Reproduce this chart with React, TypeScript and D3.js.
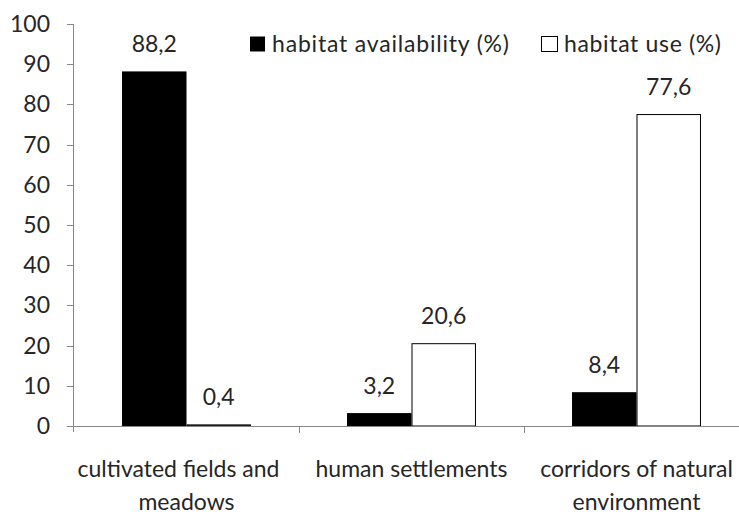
import React from "react";
import * as d3 from "d3";

const categories: string[][] = [
  ["cultivated fields and", "meadows"],
  ["human settlements"],
  ["corridors of natural", "environment"],
];
const categoryKeys = ["cultivated", "settlements", "corridors"];
const seriesNames = ["habitat availability (%)", "habitat use (%)"];
const availability = [88.2, 3.2, 8.4];
const use = [0.4, 20.6, 77.6];
const yTicks = [0, 10, 20, 30, 40, 50, 60, 70, 80, 90, 100];

const W = 739;
const H = 514;
const FONT = "Lato, 'Open Sans', sans-serif";
const FS = 23;
const TEXT = "#262626";
const AXIS = "#868686";

export default function App() {
  const left = 74;
  const right = 749;
  const top = 24;
  const bottom = 426;
  const x0 = d3.scaleBand<string>().domain(categoryKeys).range([left, right]).padding(0);
  const bw = x0.bandwidth();
  const groupW = bw * 0.573;
  const x1 = d3
    .scaleBand<string>()
    .domain(["a", "u"])
    .range([(bw - groupW) / 2, (bw + groupW) / 2])
    .padding(0);
  const y = d3.scaleLinear().domain([0, 100]).range([bottom, top]);
  const fmt = (v: number) => d3.format(".1f")(v).replace(".", ",");
  const series = [
    { key: "a", values: availability, fill: "#000", stroke: "#000" },
    { key: "u", values: use, fill: "#fff", stroke: "#000" },
  ];
  // first line of the first label is offset (trailing space in the original)
  const lineShift = (i: number, j: number) => (i === 0 && j === 0 ? -8 : 0);
  return (
    <svg
      width={W}
      height={H}
      style={{ position: "absolute", left: 0, top: 0, background: "#fff" }}
      fontFamily={FONT}
    >
      <rect width={W} height={H} fill="#fff" />
      {/* y axis */}
      <line x1={left - 0.5} x2={left - 0.5} y1={top} y2={bottom + 6} stroke={AXIS} />
      {yTicks.map((t) => (
        <g key={t}>
          <line x1={left - 7} x2={left} y1={Math.round(y(t)) + 0.5} y2={Math.round(y(t)) + 0.5} stroke={AXIS} />
          <text x={50} y={y(t)} dy="0.35em" textAnchor="end" fontSize={FS} fill={TEXT}>
            {t}
          </text>
        </g>
      ))}
      {/* bars */}
      {series.map((s) =>
        categoryKeys.map((c, i) => (
          <rect
            key={s.key + c}
            x={(x0(c) as number) + (x1(s.key) as number) + 0.5}
            y={y(s.values[i]) + 0.5}
            width={x1.bandwidth() - 1}
            height={Math.max(0, y(0) - y(s.values[i]) - 0.5)}
            fill={s.fill}
            stroke={s.stroke}
            strokeWidth={1}
          />
        ))
      )}
      {/* value labels */}
      {series.map((s) =>
        categoryKeys.map((c, i) => (
          <text
            key={"l" + s.key + c}
            x={(x0(c) as number) + (x1(s.key) as number) + x1.bandwidth() / 2}
            y={y(s.values[i]) - 19}
            textAnchor="middle"
            fontSize={FS}
            fill={TEXT}
          >
            {fmt(s.values[i])}
          </text>
        ))
      )}
      {/* x axis */}
      <line x1={left - 0.5} x2={right} y1={bottom + 0.5} y2={bottom + 0.5} stroke={AXIS} />
      {categoryKeys.slice(1).map((c) => (
        <line
          key={"t" + c}
          x1={Math.round(x0(c) as number) + 0.5}
          x2={Math.round(x0(c) as number) + 0.5}
          y1={bottom}
          y2={bottom + 7}
          stroke={AXIS}
        />
      ))}
      {categoryKeys.map((c, i) => (
        <text
          key={"c" + c}
          x={(x0(c) as number) + bw / 2}
          y={477}
          textAnchor="middle"
          fontSize={FS}
          fill={TEXT}
        >
          {categories[i].map((line, j) => (
            <tspan
              key={j}
              x={(x0(c) as number) + bw / 2 + lineShift(i, j)}
              dy={j === 0 ? 0 : 33}
            >
              {line}
            </tspan>
          ))}
        </text>
      ))}
      {/* legend */}
      <rect x={250} y={36.5} width={15} height={15} fill="#000" />
      <text x={272} y={44} dy="0.35em" fontSize={FS} fill={TEXT} textLength={237} lengthAdjust="spacing">
        {seriesNames[0]}
      </text>
      <rect x={541.5} y={36.5} width={16} height={15} fill="#fff" stroke="#000" />
      <text x={564} y={44} dy="0.35em" fontSize={FS} fill={TEXT} textLength={157} lengthAdjust="spacing">
        {seriesNames[1]}
      </text>
    </svg>
  );
}
